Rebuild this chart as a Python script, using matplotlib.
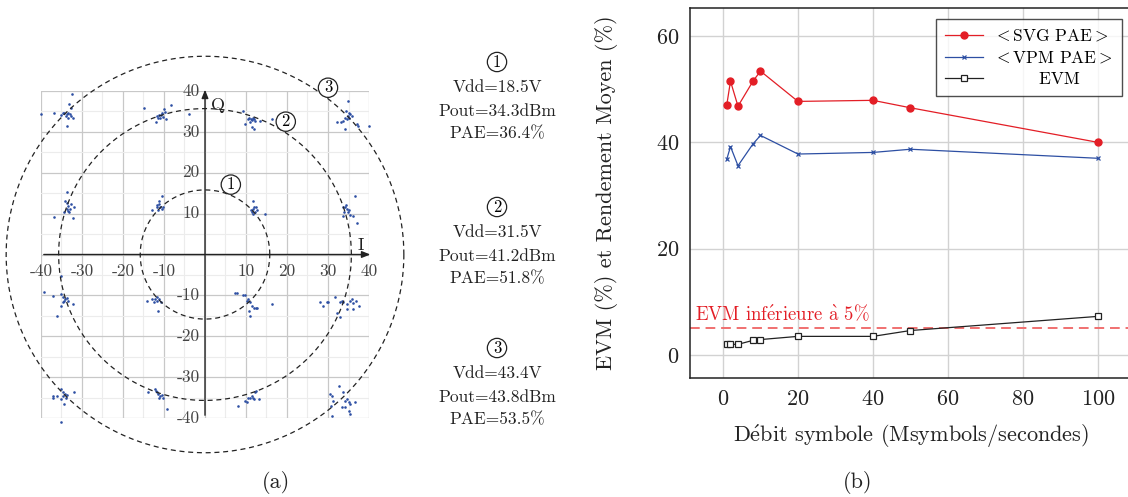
import matplotlib
matplotlib.use("Agg")
import matplotlib.pyplot as plt
import numpy as np

plt.rcParams['font.family'] = ['cmr10', 'DejaVu Serif']
plt.rcParams['mathtext.fontset'] = 'cm'
plt.rcParams['axes.unicode_minus'] = False
plt.rcParams['axes.formatter.use_mathtext'] = True

# ---------------- data (a) : constellation ----------------
const_I = [
    -40, -36.8, -35, -34.7, -33.7, -33.3, -32.9, -32.7, -33.2, -32.5, -32.8, -33.3, -33.6, -32.1, -34, -34.4,
    -14.8, -12, -11.6, -11.1, -10.7, -10.3, -10, -9.5, -8.3, -3.9, -10.5, -11.4, -9.8, -11,
    9.2, 9.8, 10.8, 11.1, 11.5, 11.9, 12.3, 11.5, 11.9, 13.4, 16.3, 11, 10.5, 11.8,
    34.8, 34.4, 35, 35.4, 34.8, 34.1, 34.6, 33.7, 32.1, 33.1, 34.1, 37, 37.4, 40.1, 35.2, 35.8,
    -33.7, -34.1, -33.7, -33.3, -32.9, -33.7, -34.4, -33.1, -32, -32.2, -36.8, -32.7, -33.3,
    -10.6, -11.1, -11.6, -11, -10.6, -10.2, -11.4, -13, -11.8, -11.1,
    11.6, 12, 11.6, 12.2, 12.6, 11.4, 11.8, 14.6, 11.1, 12.4,
    36.6, 33.6, 34.1, 34.6, 34, 35, 33.7, 35.4, 36.2, 37, 34.4, 34.8,
    -35, -39.2, -37, -35.1, -34.6, -34.1, -33.7, -33.3, -34.7, -35, -32.3, -36, -34.3,
    -14.2, -13, -12.2, -11.8, -11.1, -10.8, -11.6, -11.4, -12.4,
    7.3, 7.9, 9.2, 9.8, 10.2, 11, 11.4, 12, 12.4, 12.8, 11, 10.8, 16.3, 10.6,
    28, 28.7, 29.7, 30.1, 31.7, 32.9, 33.3, 33.7, 34.6, 35.4, 35.8, 36.2, 36.8, 37.6, 32.1, 32.9, 34.6, 36.2,
    -37, -37, -35, -34.6, -34.1, -34.7, -33.7, -35.2, -34.3, -32, -35, -36.2, -33.9,
    -13.8, -12.2, -11.8, -11.4, -11, -10.6, -11.1, -10.2, -9.3, -11.9,
    8.1, 9.8, 10.6, 11, 11.4, 11.8, 12.2, 12.4, 10.2, 13.2, 12,
    30.5, 30.9, 30.7, 30.9, 31.3, 32.8, 33.7, 34.1, 34.6, 35, 35.4, 36.6, 34.1, 35, 35.4, 33.3,
]
const_Q = [
    34.3, 34.6, 34.1, 34.5, 34.3, 34.7, 34.3, 33.9, 36.9, 39.2, 35.9, 33.5, 31.5, 33.3, 33.9, 34.5,
    35.8, 32.3, 33.9, 34.1, 34.2, 33.7, 35.7, 33.1, 36.6, 34.3, 34.7, 33.5, 34.9, 33.3,
    35, 32.0, 33.5, 33.1, 32.8, 33.1, 32.6, 31.3, 30.8, 32.7, 33.1, 32.4, 33.1, 33.5,
    37.5, 35.1, 34.7, 34.3, 33.9, 33.5, 33.1, 32.7, 32.5, 32.3, 30.6, 32, 31.5, 31.5, 33.5, 33.9,
    15.2, 13, 12.5, 11.9, 11.2, 11.1, 10.5, 10.4, 11.7, 9, 9.2, 12.3, 10.7,
    14.3, 13.1, 12.1, 11.7, 11.2, 11.5, 10.9, 10.9, 11.5, 12.3,
    13.1, 11.5, 11.1, 10.4, 10.9, 10.4, 9.9, 10, 10.8, 11.5,
    14.3, 11.7, 11.5, 11.1, 10.4, 10.8, 9.3, 9.6, 9.5, 7.7, 12.1, 10.3,
    -5.2, -9.1, -10.1, -9.7, -10.5, -10.9, -10.7, -11.3, -11.7, -12.6, -12.1, -15, -11.3,
    -11.3, -10.9, -10.8, -11.3, -10.9, -11.6, -10.5, -13.8, -11.6,
    -9.3, -9.3, -9.9, -9.9, -11.3, -11.7, -12.6, -13, -13, -13.2, -15, -13.8, -12.1, -10.9,
    -11.7, -12.7, -11.7, -11.6, -10.5, -11.6, -11.3, -11.7, -12.1, -11.3, -10.8, -11.9, -11.3, -12.7, -14.2, -15.4, -13.4, -13.4,
    -34.6, -35, -32.9, -33.6, -34.1, -34.6, -34.4, -35.4, -36.6, -33.7, -40.9, -34.6, -35,
    -33.7, -32.9, -33.7, -34.1, -34.6, -34.4, -35, -35, -37.8, -33.3,
    -37, -35.8, -35.2, -35, -34.6, -35, -33.7, -33.3, -36.2, -35.4, -35.4,
    -34.1, -34.6, -37, -39.4, -35.8, -32.1, -33.7, -35.8, -35.4, -36.2, -36.6, -36.2, -37.4, -38.2, -39, -37.4,
]
circle_radii = [15.8, 35.7, 48.5]
circle_labels = ['1', '2', '3']
circle_label_pos_I = [6.3, 19.7, 30.0]
circle_label_pos_Q = [17.1, 32.5, 40.8]
iq_ticks = [-40, -30, -20, -10, 10, 20, 30, 40]

op_labels = ['1', '2', '3']
op_vdd = ['Vdd=18.5V', 'Vdd=31.5V', 'Vdd=43.4V']
op_pout = ['Pout=34.3dBm', 'Pout=41.2dBm', 'Pout=43.8dBm']
op_pae = ['PAE=36.4%', 'PAE=51.8%', 'PAE=53.5%']

# ---------------- data (b) ----------------
symbol_rate = [1, 2, 4, 8, 10, 20, 40, 50, 100]
svg_pae = [47.0, 51.5, 46.8, 51.5, 53.4, 47.7, 47.9, 46.5, 40.0]
vpm_pae = [36.8, 39.2, 35.6, 39.7, 41.3, 37.8, 38.1, 38.7, 37.0]
evm = [2.07, 2.0, 2.0, 2.75, 2.9, 3.5, 3.5, 4.6, 7.26]
evm_limit = 5.0

RED = '#e31e26'
BLUE = '#2d4fa3'

W, H = 1128, 497
fig = plt.figure(figsize=(W / 100, H / 100), dpi=100)

# ---------------- panel (a) ----------------
ax1 = fig.add_axes([41 / W, (H - 418) / H, 328 / W, 327 / H])
ax1.set_xlim(-40, 40)
ax1.set_ylim(-40, 40)
for s in ax1.spines.values():
    s.set_visible(False)
ax1.set_xticks(np.arange(-40, 41, 10))
ax1.set_yticks(np.arange(-40, 41, 10))
ax1.set_xticks(np.arange(-35, 40, 10), minor=True)
ax1.set_yticks(np.arange(-35, 40, 10), minor=True)
ax1.tick_params(which='both', length=0, labelbottom=False, labelleft=False)
ax1.grid(True, which='major', color='#c8c8c8', lw=0.9)
ax1.grid(True, which='minor', color='#ececec', lw=0.8)
ax1.set_axisbelow(True)

ax1.annotate('', xy=(41, 0), xytext=(-40, 0),
             arrowprops=dict(arrowstyle='-|>,head_length=0.5,head_width=0.2', color='#222222', lw=1.0),
             annotation_clip=False)
ax1.annotate('', xy=(0, 41), xytext=(0, -40),
             arrowprops=dict(arrowstyle='-|>,head_length=0.5,head_width=0.2', color='#222222', lw=1.0),
             annotation_clip=False)
for t in iq_ticks:
    ax1.text(t, -2.2, str(t), ha='center', va='top', fontsize=12.5, color='#444444')
    ax1.text(-1.3, t, str(t), ha='right', va='center', fontsize=12.5, color='#444444')
ax1.text(1.5, 36.5, 'Q', ha='left', va='center', fontsize=13, color='#222222')
ax1.text(37.9, 2.3, 'I', ha='center', va='center', fontsize=13, color='#222222')

ax1.scatter(const_I, const_Q, s=3.5, color=BLUE, linewidths=0, zorder=3, clip_on=False)

th = np.linspace(0, 2 * np.pi, 400)
for r in circle_radii:
    ax1.plot(r * np.cos(th), r * np.sin(th), ls=(0, (4, 3)), color='#222222', lw=0.9, clip_on=False, zorder=4)
for lab, xi, yq in zip(circle_labels, circle_label_pos_I, circle_label_pos_Q):
    ax1.text(xi, yq, lab, ha='center', va='center', fontsize=12, zorder=6,
             bbox=dict(boxstyle='circle,pad=0.12', fc='white', ec='#222222', lw=0.9))

# operating points text
op_y_top = [62, 207, 348]
for lab, v, p, e, y0 in zip(op_labels, op_vdd, op_pout, op_pae, op_y_top):
    fig.text(497 / W, 1 - y0 / H, lab, ha='center', va='center', fontsize=12,
             bbox=dict(boxstyle='circle,pad=0.12', fc='none', ec='#222222', lw=0.9))
    fig.text(497 / W, 1 - (y0 + 25) / H, v, ha='center', va='center', fontsize=12.5, color='#222222')
    fig.text(497 / W, 1 - (y0 + 49) / H, p, ha='center', va='center', fontsize=12.5, color='#222222')
    fig.text(497 / W, 1 - (y0 + 72) / H, e, ha='center', va='center', fontsize=12.5, color='#222222')

fig.text(276 / W, 1 - 483 / H, '(a)', ha='center', va='center', fontsize=16, color='#222222')

# ---------------- panel (b) ----------------
ax2 = fig.add_axes([690 / W, (H - 378) / H, 442 / W, 370 / H])
ax2.set_xlim(-8.8, 109.1)
ax2.set_ylim(-4.33, 65.27)
ax2.set_xticks([0, 20, 40, 60, 80, 100])
ax2.set_yticks([0, 20, 40, 60])
ax2.grid(True, color='#d2d2d2', lw=1.0)
ax2.set_axisbelow(True)
ax2.tick_params(length=0, labelsize=16, pad=8, colors='#222222')
for s in ax2.spines.values():
    s.set_color('#222222')
    s.set_linewidth(1.1)

ax2.axhline(evm_limit, color='#f07070', ls=(0, (5, 3)), lw=1.4, zorder=2)
ax2.text(-7.5, evm_limit + 0.7, r'EVM inf$\mathrm{\acute{e}}$rieure $\mathrm{\grave{a}}$ 5%',
         color=RED, fontsize=13.5, ha='left', va='bottom')

ax2.plot(symbol_rate, svg_pae, color=RED, lw=0.9, marker='o', ms=5,
         label=r'${<}$SVG PAE${>}$', zorder=4)
ax2.plot(symbol_rate, vpm_pae, color=BLUE, lw=0.9, marker='x', ms=3.5, mew=0.9,
         label=r'${<}$VPM PAE${>}$', zorder=4)
ax2.plot(symbol_rate, evm, color='#222222', lw=0.9, marker='s', ms=5, mfc='white',
         mec='#222222', mew=0.9, label='        EVM', zorder=4)

leg = ax2.legend(loc='upper right', bbox_to_anchor=((1122 - 690) / 442, 1 - 11 / 370),
                 fontsize=12.5, frameon=True, fancybox=False, edgecolor='#222222',
                 handlelength=2.2, borderpad=0.5, labelspacing=0.35, handletextpad=0.6,
                 borderaxespad=0)
leg.get_frame().set_linewidth(1.0)

ax2.set_xlabel(r'D$\mathrm{\acute{e}}$bit symbole (Msymbols/secondes)', fontsize=16, labelpad=10, color='#222222')
ax2.set_ylabel('EVM (%) et Rendement Moyen (%)', fontsize=16, labelpad=27, color='#222222')

fig.text(858 / W, 1 - 482 / H, '(b)', ha='center', va='center', fontsize=16, color='#222222')

fig.savefig('out.png', dpi=100)
